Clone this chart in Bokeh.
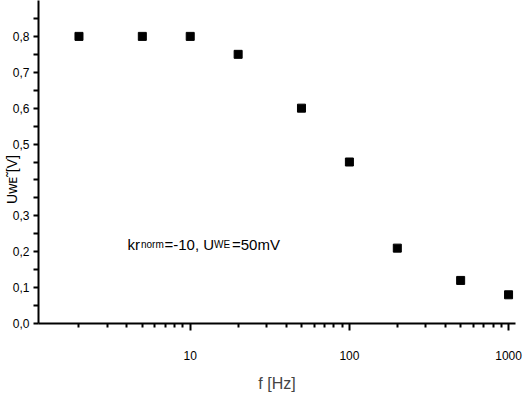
from bokeh.plotting import figure
from bokeh.models import Label, FixedTicker, CustomJSTickFormatter, Range1d
from bokeh.embed import file_html
from bokeh.resources import INLINE

# ---- data ----
freq_hz = [2, 5, 10, 20, 50, 100, 200, 500, 1000]
u_volts = [0.80, 0.80, 0.80, 0.75, 0.60, 0.45, 0.21, 0.12, 0.08]

x_ticks = [10, 100, 1000]
x_tick_labels = ["10", "100", "1000"]
x_minor_ticks = [2, 3, 4, 5, 6, 7, 8, 9, 20, 30, 40, 50, 60, 70, 80, 90,
                 200, 300, 400, 500, 600, 700, 800, 900]
y_ticks = [0.0, 0.1, 0.2, 0.3, 0.4, 0.5, 0.6, 0.7, 0.8]
y_tick_labels = ["0,0", "0,1", "0,2", "0,3", "", "0,5", "0,6", "0,7", "0,8"]
y_minor_ticks = [0.05, 0.15, 0.25, 0.35, 0.45, 0.55, 0.65, 0.75, 0.85]

FONT = "Liberation Sans"
NBSP = "\u00a0"

p = figure(width=523, height=394, x_axis_type="log",
           x_range=Range1d(1.1135, 1105.7), y_range=Range1d(0, 0.9),
           output_backend="svg", toolbar_location=None,
           min_border_left=34, min_border_right=8, min_border_top=0,
           min_border_bottom=70)
p.outline_line_color = None
p.grid.visible = False
p.background_fill_color = "white"
p.border_fill_color = "white"

p.scatter(freq_hz, u_volts, marker="square", size=8, color="black")

# x axis
xa = p.xaxis[0]
xa.ticker = FixedTicker(ticks=x_ticks, minor_ticks=x_minor_ticks)
xa.formatter = CustomJSTickFormatter(args=dict(t=x_ticks, l=x_tick_labels), code="""
  let best = 0;
  for (let i = 0; i < t.length; i++) { if (Math.abs(t[i]-tick) < Math.abs(t[best]-tick)) best = i; }
  return l[best];
""")
xa.axis_line_width = 2
xa.major_tick_line_width = 2
xa.minor_tick_line_width = 2
xa.major_tick_out = 7
xa.major_tick_in = 0
xa.minor_tick_out = 4
xa.minor_tick_in = 0
xa.major_label_text_font = FONT
xa.major_label_text_font_size = "12px"
xa.major_label_text_color = "black"
xa.major_label_standoff = 20
xa.axis_label = "f [Hz]"
xa.axis_label_text_font = FONT
xa.axis_label_text_font_size = "16px"
xa.axis_label_text_font_style = "normal"
xa.axis_label_standoff = 12

# y axis
ya = p.yaxis[0]
ya.ticker = FixedTicker(ticks=y_ticks, minor_ticks=y_minor_ticks)
ya.formatter = CustomJSTickFormatter(args=dict(t=y_ticks, l=y_tick_labels), code="""
  let best = 0;
  for (let i = 0; i < t.length; i++) { if (Math.abs(t[i]-tick) < Math.abs(t[best]-tick)) best = i; }
  return l[best];
""")
ya.axis_line_width = 2
ya.major_tick_line_width = 2
ya.minor_tick_line_width = 2
ya.major_tick_out = 5
ya.major_tick_in = 0
ya.minor_tick_out = 5
ya.minor_tick_in = 0
ya.major_label_text_font = FONT
ya.major_label_text_font_size = "12px"
ya.major_label_text_color = "black"
ya.major_label_standoff = 4
# axis title: U with small-capital "WE" subscript and a raised tilde;
# trailing no-break spaces move the centred title down to where the reference has it
ya.axis_label = "U\u1d21\u1d07\u02dc[V]" + NBSP * 9
ya.axis_label_text_font = FONT
ya.axis_label_text_font_size = "14px"
ya.axis_label_text_font_style = "normal"
ya.axis_label_text_color = "black"
ya.axis_label_standoff = -10

# annotation text
def ann(text, x, size):
    p.add_layout(Label(x=x, y=79, x_units="screen", y_units="screen", text=text,
                       text_font=FONT, text_font_size=size, text_color="black",
                       text_baseline="alphabetic", text_align="left"))
ann("kr", 89, "15px")
ann("norm", 102.5, "10px")
ann("=-10, U", 126, "15px")
ann("WE", 175.5, "10px")
ann("=50mV", 193.5, "15px")

open("out.html", "w").write(file_html(p, INLINE))
